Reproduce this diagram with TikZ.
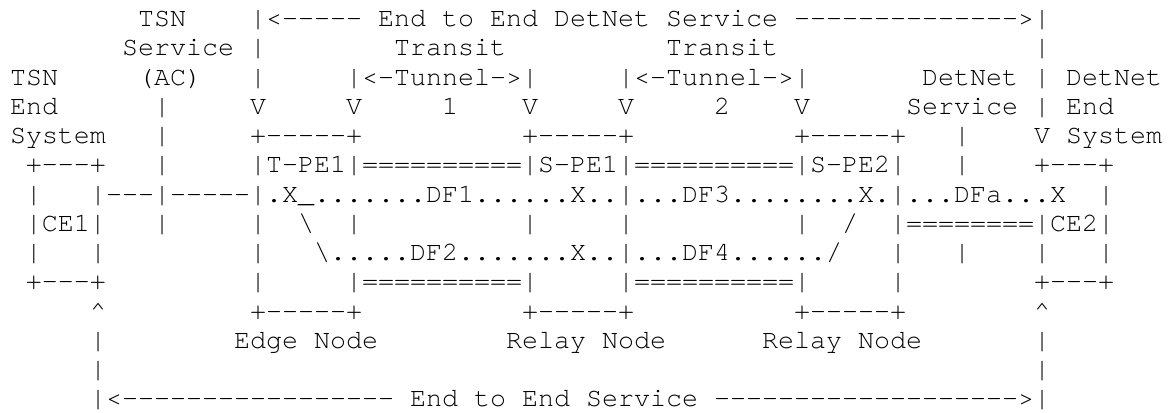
\documentclass[tikz,border=0pt]{standalone}
\usepackage{fontspec}
\setmonofont{TeX Gyre Cursor}
\frenchspacing
% one character cell is 16 units wide, one text row 29.25 units high
\tikzset{
  ascii/.style={anchor=base west, inner sep=0pt, outer sep=0pt,
    font=\ttfamily\fontsize{20}{20}\selectfont, text=black},
}
% \frag{row}{column}{text}: a run of characters starting in the given cell
\newcommand\frag[3]{\node[ascii] (r#1c#2) at ({10+16*#2},{26.7+29.25*(#1-1)}) {#3};}
\begin{document}
\begin{tikzpicture}[x=0.75pt,y=-0.75pt]
\useasboundingbox[fill=white] (0,0) rectangle (1171,412);
% row 1
\frag{1}{8}{TSN}
\frag{1}{15}{|<----- End to End DetNet Service}
\frag{1}{49}{-------------->|}
% row 2
\frag{2}{7}{Service}
\frag{2}{15}{|}
\frag{2}{24}{Transit}
\frag{2}{41}{Transit}
\frag{2}{64}{|}
% row 3
\frag{3}{0}{TSN}
\frag{3}{8}{(AC)}
\frag{3}{15}{|}
\frag{3}{21}{|<-Tunnel->|}
\frag{3}{38}{|<-Tunnel->|}
\frag{3}{57}{DetNet | DetNet}
% row 4
\frag{4}{0}{End}
\frag{4}{9}{|}
\frag{4}{15}{V}
\frag{4}{21}{V}
\frag{4}{27}{1}
\frag{4}{32}{V}
\frag{4}{38}{V}
\frag{4}{44}{2}
\frag{4}{49}{V}
\frag{4}{56}{Service | End}
% row 5
\frag{5}{0}{System}
\frag{5}{9}{|}
\frag{5}{15}{+-----+}
\frag{5}{32}{+-----+}
\frag{5}{49}{+-----+}
\frag{5}{59}{|}
\frag{5}{64}{V System}
% row 6
\frag{6}{1}{+---+}
\frag{6}{9}{|}
\frag{6}{15}{|T-PE1|==========|S-PE1|==========|S-PE2|}
\frag{6}{59}{|}
\frag{6}{64}{+---+}
% row 7
\frag{7}{1}{|}
\frag{7}{5}{|---|-----|.X\_.......DF1......X..|...DF3........X.|...DFa...X}
\frag{7}{68}{|}
% row 8
\frag{8}{1}{|CE1|}
\frag{8}{9}{|}
\frag{8}{15}{|}
\frag{8}{18}{\textbackslash}
\frag{8}{21}{|}
\frag{8}{32}{|}
\frag{8}{38}{|}
\frag{8}{49}{|}
\frag{8}{52}{/}
\frag{8}{55}{|========|CE2|}
% row 9
\frag{9}{1}{|}
\frag{9}{5}{|}
\frag{9}{15}{|}
\frag{9}{19}{\textbackslash.....DF2.......X..|...DF4....../}
\frag{9}{55}{|}
\frag{9}{59}{|}
\frag{9}{64}{|}
\frag{9}{68}{|}
% row 10
\frag{10}{1}{+---+}
\frag{10}{15}{|}
\frag{10}{21}{|==========|}
\frag{10}{38}{|==========|}
\frag{10}{55}{|}
\frag{10}{64}{+---+}
% row 11
\frag{11}{5}{\textasciicircum}
\frag{11}{15}{+-----+}
\frag{11}{32}{+-----+}
\frag{11}{49}{+-----+}
\frag{11}{64}{\textasciicircum}
% row 12
\frag{12}{5}{|}
\frag{12}{14}{Edge Node}
\frag{12}{31}{Relay Node}
\frag{12}{47}{Relay Node}
\frag{12}{64}{|}
% row 13
\frag{13}{5}{|}
\frag{13}{64}{|}
% row 14
\frag{14}{5}{|<----------------- End to End Service}
\frag{14}{44}{------------------->|}
\end{tikzpicture}
\end{document}
